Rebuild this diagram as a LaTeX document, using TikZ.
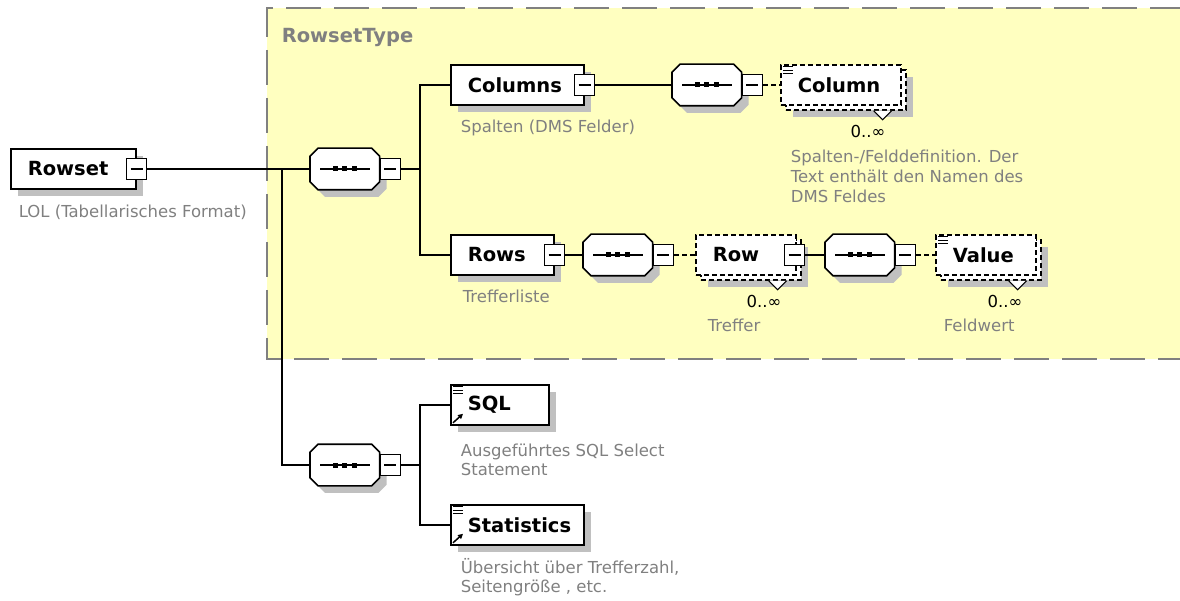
\documentclass[tikz,border=0pt]{standalone}
\usepackage{fontspec}
\setmainfont{DejaVu Sans}
\usetikzlibrary{shadows,arrows.meta}

\definecolor{typeyellow}{RGB}{255,255,192}
\definecolor{notegray}{RGB}{128,128,128}
\definecolor{shadowgray}{RGB}{192,192,192}

\tikzset{
  namefont/.style={font=\fontsize{19.5}{22}\selectfont\bfseries},
  notefont/.style={font=\fontsize{16.5}{20}\selectfont},
  flatshadow/.style={drop shadow={shadow xshift=#1,shadow yshift=-#1,fill=shadowgray,opacity=1,draw=none}},
  box/.style={rectangle,draw,fill=white,line width=1.6pt,minimum height=40pt,
    inner xsep=17pt,inner ysep=0pt,align=left,anchor=west,namefont},
  elem/.style={box,flatshadow=7pt},
  multi/.style={box,dash pattern=on 5pt off 3pt,flatshadow=12pt,
    copy shadow={shadow xshift=5pt,shadow yshift=-5pt}},
  seq/.style={rectangle,minimum width=68pt,minimum height=40pt,inner sep=0pt,anchor=west},
  octagon/.style={draw,fill=white,line width=1.6pt,flatshadow=7pt},
  minus/.style={rectangle,draw,fill=white,line width=1.4pt,minimum width=20pt,
    minimum height=21pt,inner sep=0pt,
    path picture={\draw[line width=1.2pt] ([xshift=4pt]path picture bounding box.west)
      -- ([xshift=-4pt]path picture bounding box.east);}},
  note/.style={anchor=base west,inner sep=0pt,text=notegray,notefont},
  occurs/.style={anchor=base,inner sep=0pt,notefont},
  link/.style={dash pattern=on 5pt off 3pt}
}

\begin{document}
\begin{tikzpicture}[x=1pt,y=-1pt,line width=1.6pt]
  \useasboundingbox (0,0) rectangle (1180,601);

  \fill[typeyellow] (267,8) rectangle (1185,359);
  \draw[notegray,line width=2pt,dash pattern=on 35pt off 13pt]
    (1185,8) -- (267,8) -- (267,359) -- (1185,359);
  \node[anchor=base west,inner sep=0pt,text=notegray,namefont] (typename) at (281,43) {RowsetType};

  \node[elem,text width=91pt] (rowset) at (10,169) {Rowset};
  \node[seq] (seqa) at (310,169) {};
  \node[elem,text width=99pt] (cols) at (450,85) {Columns};
  \node[seq] (seqb) at (672,85) {};
  \node[multi,text width=86pt] (col) at (780,85) {Column};
  \node[elem,text width=69pt] (rows) at (450,255) {Rows};
  \node[seq] (seqc) at (583,255) {};
  \node[multi,text width=66pt] (row) at (695,255) {Row};
  \node[seq] (seqd) at (825,255) {};
  \node[multi,text width=66pt] (val) at (935,255) {Value};
  \node[seq] (seqe) at (310,465) {};
  \node[elem,text width=64pt] (sql) at (450,405) {SQL};
  \node[elem,text width=99pt] (stats) at (450,525) {Statistics};

  \foreach \s in {seqa,seqb,seqc,seqd,seqe} {
    \path[octagon] ([shift={(8,0)}]\s.north west) -- ([shift={(-8,0)}]\s.north east)
      -- ([shift={(0,8)}]\s.north east) -- ([shift={(0,-8)}]\s.south east)
      -- ([shift={(-8,0)}]\s.south east) -- ([shift={(8,0)}]\s.south west)
      -- ([shift={(0,-8)}]\s.south west) -- ([shift={(0,8)}]\s.north west) -- cycle;
    \draw ([xshift=10pt]\s.west) -- ([xshift=-10pt]\s.east);
    \foreach \d in {-9.5,0,9.5}
      \fill ([xshift=\d pt]\s.center) +(-2.5,-2.5) rectangle +(2.5,2.5);
  }

  \node[minus] (rowsetm) at (rowset.east) {};
  \node[minus,anchor=west] (seqam) at (seqa.east) {};
  \node[minus] (colsm) at (cols.east) {};
  \node[minus,anchor=west] (seqbm) at (seqb.east) {};
  \node[minus] (rowsm) at (rows.east) {};
  \node[minus,anchor=west] (seqcm) at (seqc.east) {};
  \node[minus] (rowm) at ([xshift=-2pt]row.east) {};
  \node[minus,anchor=west] (seqdm) at (seqd.east) {};
  \node[minus,anchor=west] (seqem) at (seqe.east) {};

  \foreach \e in {col,val,sql,stats}
    \foreach \k in {2.5,6,9.5}
      \draw[line width=1pt] ([shift={(3,\k)}]\e.north west) -- ++(10,0);
  \foreach \e in {sql,stats}
    \draw[line width=1.5pt,-{Triangle[length=5pt,width=5pt]}]
      ([shift={(3,-3)}]\e.south west) -- ++(10,-9);
  \foreach \e in {col,row,val}
    \path[draw,fill=white,line width=1pt] ([shift={(-28,5)}]\e.south east) -- ++(9,9) -- ++(9,-9);

  \coordinate (trunk) at (282,169);
  \coordinate (bra) at (420,169);
  \coordinate (brb) at (420,465);
  \draw (rowsetm) -- (seqa);
  \draw (trunk) |- (seqe);
  \draw (seqam) -- (bra);
  \draw (bra) |- (cols);
  \draw (bra) |- (rows);
  \draw (colsm) -- (seqb);
  \draw[link] (seqbm) -- (col);
  \draw (rowsm) -- (seqc);
  \draw[link] (seqcm) -- (row);
  \draw (rowm) -- (seqd);
  \draw[link] (seqdm) -- (val);
  \draw (seqem) -- (brb);
  \draw (brb) |- (sql);
  \draw (brb) |- (stats);

  \node[occurs] (colocc) at (868,138) {0..∞};
  \node[occurs] (rowocc) at (764,308) {0..∞};
  \node[occurs] (valocc) at (1005,308) {0..∞};

  \node[note] (rowsetnote) at (18,218) {LOL (Tabellarisches Format)};
  \node[note] (colsnote) at (460,133) {Spalten (DMS Felder)};
  \node[note] (colnotea) at (790,163) {Spalten-/Felddefinition. Der};
  \node[note] (colnoteb) at (790,183) {Text enthält den Namen des};
  \node[note] (colnotec) at (790,203) {DMS Feldes};
  \node[note] (rowsnote) at (462,303) {Trefferliste};
  \node[note] (rownote) at (707,332) {Treffer};
  \node[note] (valnote) at (943,332) {Feldwert};
  \node[note] (sqlnotea) at (460,456) {Ausgeführtes SQL Select};
  \node[note] (sqlnoteb) at (460,475) {Statement};
  \node[note] (statsnotea) at (460,573) {Übersicht über Trefferzahl,};
  \node[note] (statsnoteb) at (460,592) {Seitengröße , etc.};
\end{tikzpicture}
\end{document}
